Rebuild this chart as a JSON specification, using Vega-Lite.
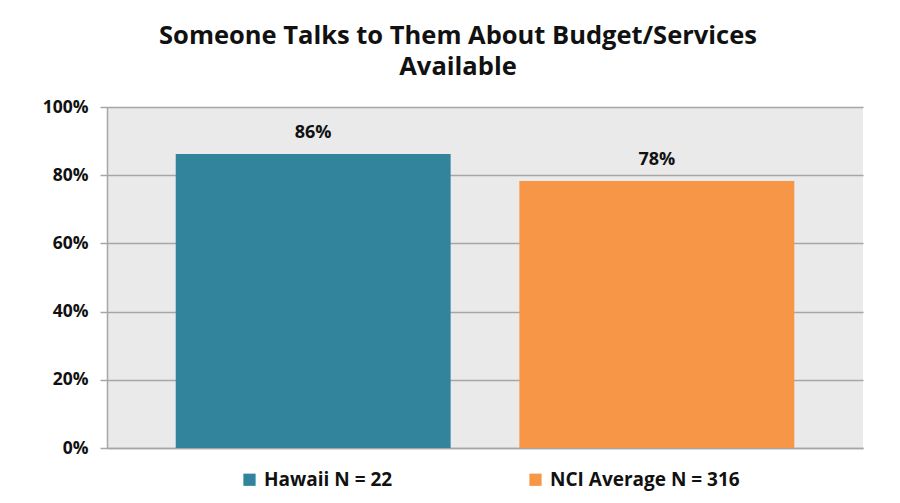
{
  "$schema": "https://vega.github.io/schema/vega-lite/v6.json",
  "autosize": {"type": "none"},
  "padding": {"left": 107, "top": 107, "right": 37, "bottom": 55},
  "width": 756,
  "height": 341,
  "background": "white",
  "title": {
    "text": ["Someone Talks to Them About Budget/Services", "Available"],
    "font": "Open Sans",
    "fontSize": 25.5,
    "fontWeight": "bold",
    "color": "#111111",
    "anchor": "middle",
    "offset": 18,
    "dx": -27,
    "lineHeight": 31
  },
  "config": {
    "view": {"fill": "#EAEAEA", "stroke": null},
    "font": "Open Sans"
  },
  "data": {
    "values": [
      {"series": "Hawaii N = 22", "value": 0.862, "label": "86%"},
      {"series": "NCI Average N = 316", "value": 0.783, "label": "78%"}
    ]
  },
  "encoding": {
    "x": {
      "field": "series",
      "type": "nominal",
      "sort": null,
      "scale": {"paddingInner": 0.2, "paddingOuter": 0.2},
      "axis": {
        "labels": false,
        "ticks": false,
        "title": null,
        "domainColor": "#A6A6A6",
        "domainWidth": 1.5
      }
    },
    "y": {
      "field": "value",
      "type": "quantitative",
      "scale": {"domain": [0, 1]},
      "axis": {
        "format": ".0%",
        "values": [0, 0.2, 0.4, 0.6, 0.8, 1],
        "title": null,
        "labelFont": "Open Sans",
        "labelFontSize": 17.5,
        "labelFontWeight": "bold",
        "labelColor": "#111111",
        "labelPadding": 12,
        "tickSize": 7,
        "tickColor": "#A6A6A6",
        "tickWidth": 1.5,
        "gridColor": "#A6A6A6",
        "gridWidth": 1.5,
        "domainColor": "#A6A6A6",
        "domainWidth": 1.5
      }
    }
  },
  "layer": [
    {
      "mark": {"type": "bar"},
      "encoding": {
        "color": {
          "field": "series",
          "type": "nominal",
          "sort": null,
          "scale": {"range": ["#31849B", "#F79646"]},
          "legend": {
            "title": null,
            "orient": "none",
            "direction": "horizontal",
            "legendX": 133,
            "legendY": 363,
            "symbolType": "square",
            "symbolSize": 150,
            "symbolStrokeWidth": 0,
            "labelFont": "Open Sans",
            "labelFontSize": 19,
            "labelFontWeight": "bold",
            "labelColor": "#111111",
            "labelOffset": 5,
            "columnPadding": 133,
            "labelLimit": 400
          }
        }
      }
    },
    {
      "mark": {
        "type": "text",
        "baseline": "bottom",
        "dy": -12,
        "font": "Open Sans",
        "fontSize": 18,
        "fontWeight": "bold",
        "color": "#111111"
      },
      "encoding": {"text": {"field": "label"}}
    }
  ]
}
